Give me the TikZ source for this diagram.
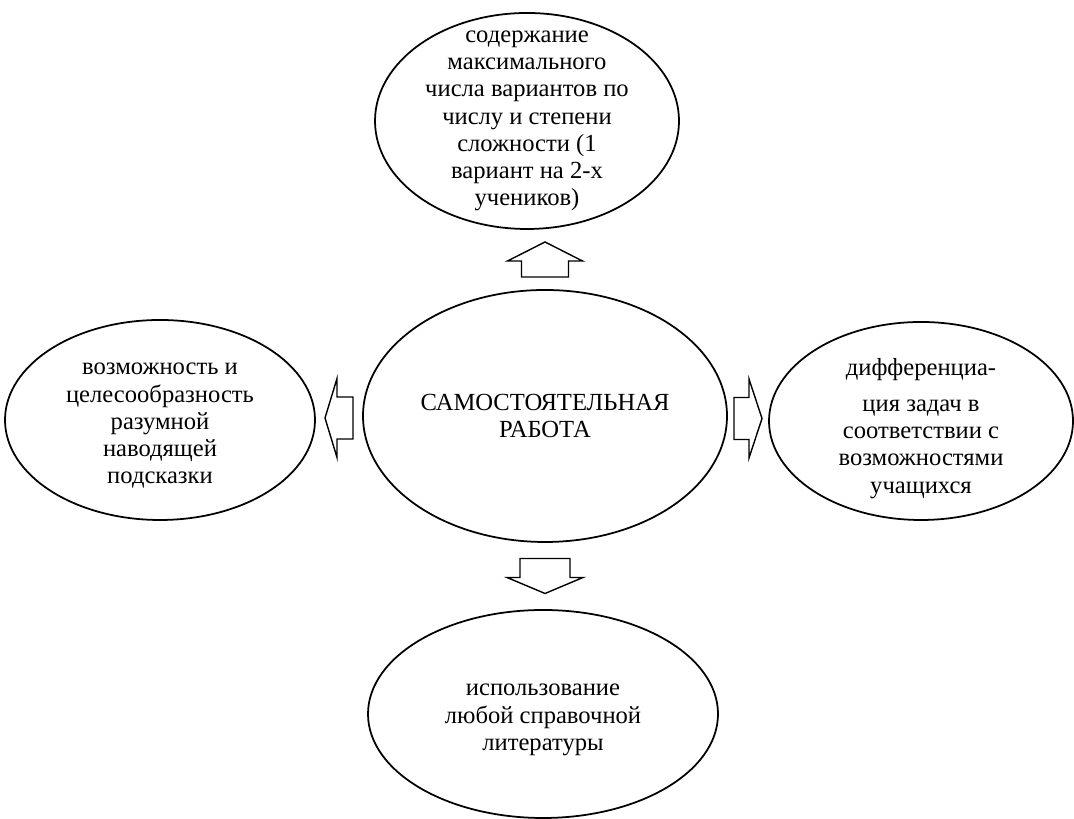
\documentclass[tikz,border=0pt]{standalone}
\usepackage{fontspec}
\setmainfont{Liberation Serif}
\usetikzlibrary{shapes.geometric,calc}

\tikzset{
  oval/.style={draw, ellipse, line width=1pt, inner sep=0pt},
  words/.style={align=center, font=\fontsize{14}{15.5}\selectfont},
  % length, head length, head width, shaft width
  pics/blockarrow/.style n args={4}{code={
    \draw[line width=0.8pt, fill=white] (-#1/2,-#4/2) -- (#1/2-#2,-#4/2) -- (#1/2-#2,-#3/2) -- (#1/2,0)
      -- (#1/2-#2,#3/2) -- (#1/2-#2,#4/2) -- (-#1/2,#4/2) -- cycle;
  }}
}

\begin{document}
\begin{tikzpicture}
\useasboundingbox (0,0) rectangle (21.48,16.38);

\node[oval, minimum width=6.08cm, minimum height=4.32cm] (Top) at (10.54,13.96) {};
\node[words] (Top text) at (Top) {содержание\\ максимального\\ числа вариантов по\\ числу и степени\\ сложности (1\\ вариант на 2-х\\ учеников)};

\node[oval, minimum width=7.28cm, minimum height=5.04cm] (Centre) at (10.9,8.06) {};
\node[words] (Centre text) at (Centre) {САМОСТОЯТЕЛЬНАЯ\\ РАБОТА};

\node[oval, minimum width=6.2cm, minimum height=4cm] (Left) at (3.2,7.98) {};
\node[words] (Left text) at ($(Left)+(0,-0.12)$) {возможность и\\ целесообразность\\ разумной\\ наводящей\\ подсказки};

\node[oval, minimum width=6.08cm, minimum height=3.96cm] (Right) at (18.42,7.96) {};
\node[words] (Right text) at ($(Right)+(0,-0.15)$) {дифференциа-\\[5pt] ция задач в\\ соответствии с\\ возможностями\\ учащихся};

\node[oval, minimum width=7cm, minimum height=4.16cm] (Bottom) at (10.86,2.1) {};
\node[words] (Bottom text) at ($(Bottom)+(0,-0.12)$) {использование\\ любой справочной\\ литературы};

\pic[rotate=90] at ($(Centre.north)!0.5!(Centre.north |- Top.south)$) {blockarrow={0.7}{0.38}{1.5}{0.94}};
\pic[rotate=180] at ($(Left.east)!0.5!(Centre.west)$) {blockarrow={0.56}{0.24}{1.58}{0.84}};
\pic at ($(Centre.east)!0.5!(Right.west)$) {blockarrow={0.56}{0.26}{1.58}{0.84}};
\pic[rotate=-90] at ($(Centre.south)!0.5!(Centre.south |- Bottom.north)$) {blockarrow={0.7}{0.32}{1.52}{1.0}};
\end{tikzpicture}
\end{document}
